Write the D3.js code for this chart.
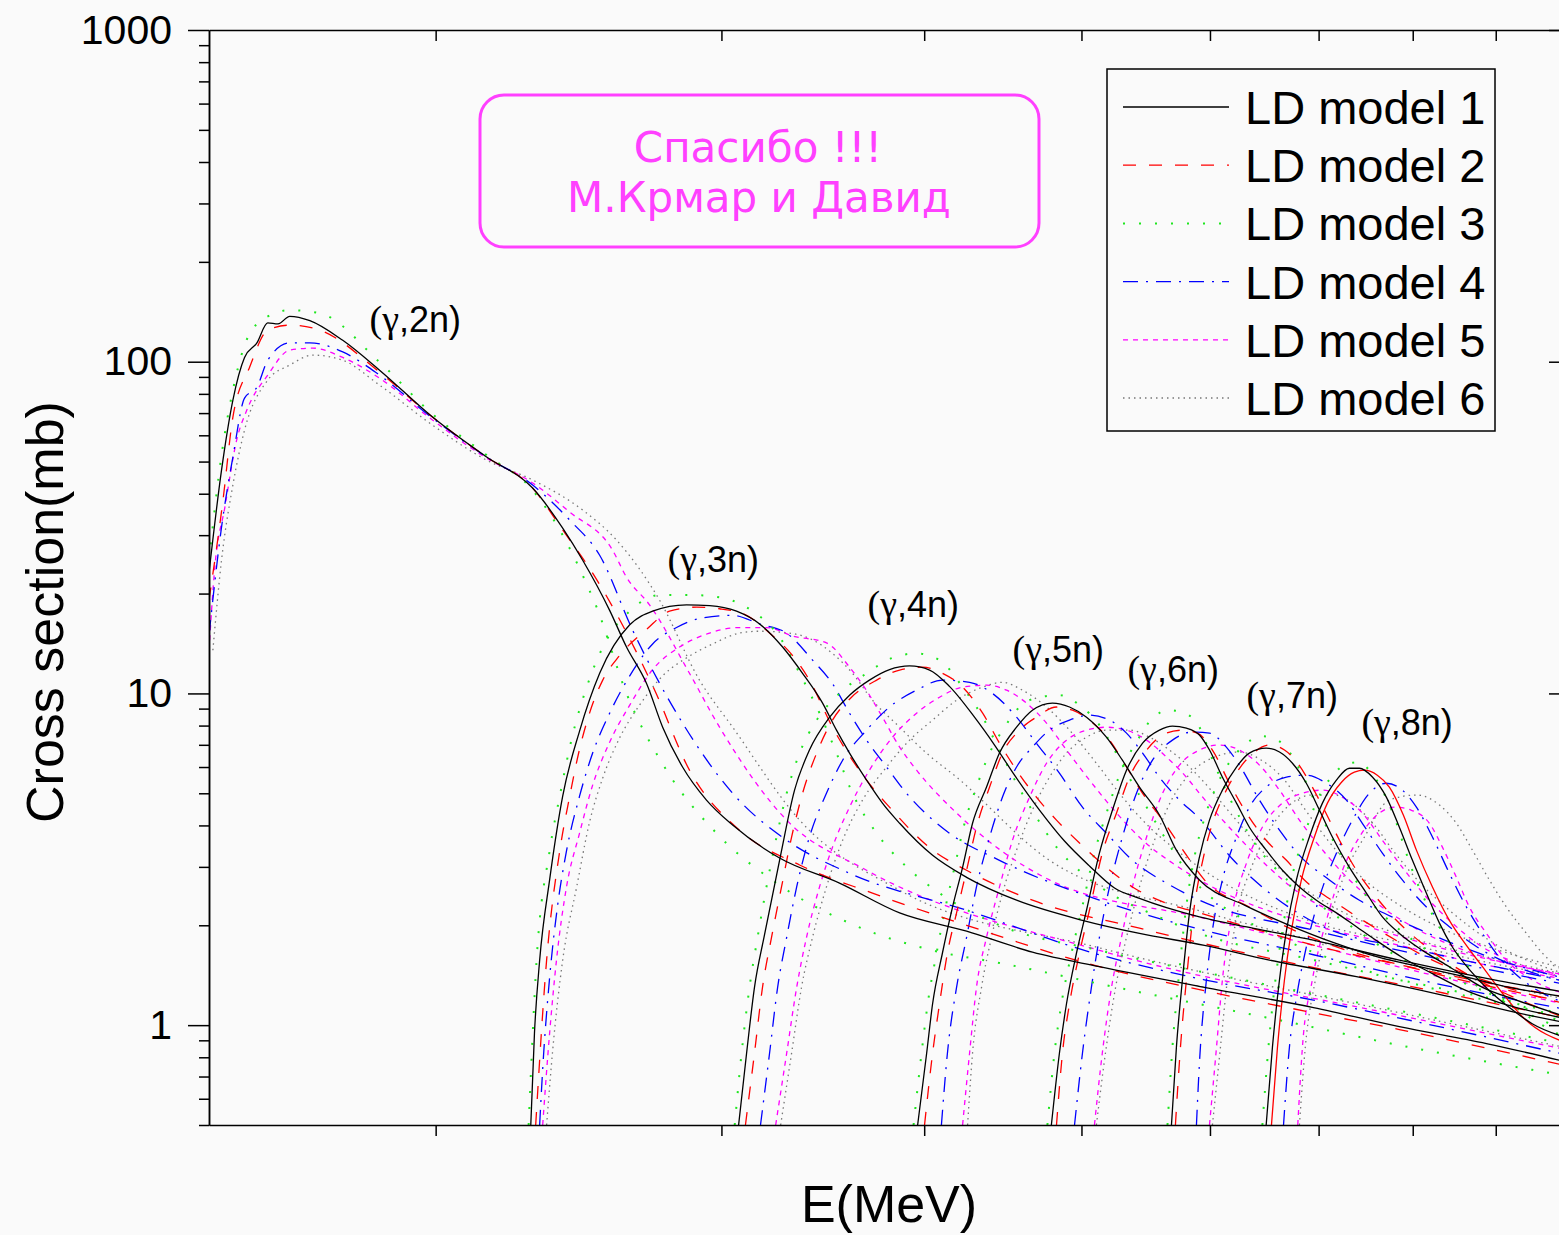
<!DOCTYPE html>
<html lang="ru">
<head>
<meta charset="UTF-8">
<title>Cross section(mb) vs E(MeV)</title>
<script src="https://d3js.org/d3.v7.min.js"></script>
<style>
  body { margin: 0; background: #fafafa; }
  svg { display: block; }
</style>
</head>
<body>
<script>
// legend entries
const models = ["LD model 1", "LD model 2", "LD model 3", "LD model 4", "LD model 5", "LD model 6"];

// reaction labels and where they sit (E in MeV, sigma in mb)
const reactions = ["2n", "3n", "4n", "5n", "6n", "7n", "8n"];
const labelE = [18.21, 27.79, 36.91, 45.34, 53.37, 63.19, 74.38];
const labelS = [122.8, 23.2, 17.0, 12.4, 10.8, 9.03, 7.49];

// axis ticks
const xTicks = [20, 30, 40, 50, 60, 70, 80, 90];
const yTicks = [1, 10, 100, 1000];
const yMinor = [0.5, 0.6, 0.7, 0.8, 0.9, 2, 3, 4, 5, 6, 7, 8, 9, 20, 30, 40, 50, 60, 70, 80, 90,
                200, 300, 400, 500, 600, 700, 800, 900];

// cross sections [E (MeV), sigma (mb)], one list per LD model (1..6)
const s2n = [
  [[14.5,23.1],[14.76,47.1],[15.0,76.6],[15.25,103],[15.52,114],[15.76,131],[15.99,130],[16.26,137],[16.73,133],[17.53,116],[18.47,94.3],[19.91,68.1],[21.5,51.6],[22.95,41.6],[23.95,31.5],[24.64,25.2],[25.6,17.8],[26.22,13.8],[26.98,10.7],[27.6,7.91],[28.39,6.0],[29.37,4.77],[30.48,4.01],[32.58,3.19],[35.47,2.68],[38.63,2.18],[42.48,1.92],[46.64,1.66],[51.29,1.50],[59.53,1.30],[69.49,1.13],[78.5,0.99],[88.82,0.88],[100,0.77]],
  [[14.5,19.1],[14.79,38.2],[15.0,68.1],[15.36,96.3],[15.76,124.5],[16.26,128.9],[16.97,124.5],[18.47,93.0],[19.91,68.1],[21.5,51.6],[22.95,41.6],[23.95,31.1],[24.99,23.05],[25.78,17.8],[27.29,10.23],[28.67,5.87],[30.78,3.87],[33.52,3.04],[37.17,2.50],[42.48,2.0],[51.29,1.50],[59.53,1.27],[69.49,1.09],[78.5,0.97],[100,0.75]],
  [[14.5,25.2],[14.76,52.3],[15.0,82.1],[15.25,112],[15.58,132],[16.26,143],[16.97,140],[18.47,99.7],[19.91,69.5],[21.5,52.3],[22.95,41.0],[23.95,30.0],[24.64,22.7],[25.13,18.2],[26.22,10.0],[27.75,5.87],[29.79,3.79],[32.44,2.68],[35.98,2.03],[40.48,1.68],[44.51,1.54],[53.75,1.27],[65.28,1.05],[78.5,0.87],[100,0.70]],
  [[14.5,15],[14.76,31.7],[15.0,51.6],[15.25,77.7],[15.52,83.8],[15.76,101],[16.26,114],[16.73,114],[17.53,107],[18.47,91.1],[19.91,67.6],[21.5,51.6],[22.95,42.5],[24.19,33.3],[25.24,26.1],[26.45,15.5],[28.39,8.14],[30.48,5.0],[32.91,3.61],[35.98,2.87],[42.48,2.22],[51.29,1.63],[59.53,1.37],[69.49,1.19],[78.5,1.05],[100,0.81]],
  [[14.5,13.5],[14.62,24.0],[14.83,36.4],[15.08,58.0],[15.3,71.5],[15.76,91.1],[16.26,108.4],[16.8,109.9],[17.53,103],[18.47,89.2],[19.91,66.7],[21.5,51.2],[22.95,43.1],[24.19,35.2],[25.71,27.0],[26.22,22.4],[27.09,18.5],[28.67,11.5],[29.92,7.91],[32.91,4.15],[36.86,2.93],[51.29,1.68],[78.5,1.07],[100,0.84]],
  [[14.58,13.5],[14.76,25.2],[15.0,42.5],[15.25,62.2],[15.76,88.0],[16.26,97.7],[16.8,104.7],[17.53,101],[18.47,85],[19.91,64.4],[21.5,50.5],[22.95,44.0],[24.64,35.7],[25.85,29.0],[27.48,19.1],[29.08,10.97],[30.48,7.91],[33.52,4.15],[38.63,2.55],[51.29,1.71],[78.5,1.09],[100,0.85]]
];
const s3n = [
  [[22.89,0.5],[23.01,0.946],[23.18,1.57],[23.51,2.74],[23.95,4.90],[24.53,7.70],[25.24,11.5],[26.34,16.1],[27.21,17.7],[28.55,18.5],[29.5,18.4],[30.65,17.7],[31.67,16.2],[32.72,13.8],[33.66,11.5],[34.63,9.35],[35.32,7.75],[35.98,6.61],[36.86,5.48],[37.7,4.67],[38.63,4.06],[40.48,3.25],[42.48,2.79],[45.6,2.38],[50.07,2.07],[54.29,1.89],[59.53,1.74],[65.28,1.57],[73.86,1.40],[83.56,1.23],[94.4,1.07],[100,1.01]],
  [[23.05,0.5],[23.41,1.57],[23.85,3.35],[24.19,4.90],[24.53,6.79],[24.88,8.72],[25.35,10.97],[25.96,13.0],[26.98,15.6],[27.87,17.7],[28.96,18.2],[29.92,18.0],[31.09,17.2],[32.12,15.2],[33.19,13.0],[33.99,10.97],[35.12,7.91],[36.86,5.48],[38.08,4.54],[40.48,3.37],[42.48,2.93],[46.64,2.38],[54.29,1.96],[65.28,1.59],[83.56,1.25],[100,1.04]],
  [[22.82,0.5],[23.08,1.57],[23.51,3.35],[23.85,4.90],[24.29,7.49],[24.78,10.45],[25.49,14.5],[26.34,17.7],[27.48,19.8],[28.8,19.8],[30.05,19.4],[31.35,17.7],[32.58,14.8],[33.52,11.5],[34.48,8.72],[35.32,6.61],[36.13,5.0],[37.39,3.79],[39.01,3.0],[40.88,2.50],[44.51,2.0],[51.29,1.68],[65.28,1.32],[83.56,1.04],[100,0.87]],
  [[23.18,0.5],[23.28,0.737],[23.51,1.39],[23.78,2.30],[24.08,3.35],[24.53,4.90],[24.99,6.61],[25.6,8.72],[26.34,11.3],[27.21,14.1],[28.15,15.8],[29.21,16.9],[30.48,17.2],[31.67,16.2],[32.91,15.2],[34.14,12.6],[35.12,10.7],[35.98,8.72],[36.86,7.23],[37.92,6.0],[39.01,5.0],[41.46,3.79],[44.51,3.14],[51.29,2.38],[59.53,1.93],[69.49,1.63],[83.56,1.32],[100,1.11]],
  [[23.28,0.5],[23.51,0.946],[23.74,1.57],[24.08,2.61],[24.53,3.79],[24.99,5.29],[25.6,7.13],[26.34,9.22],[27.21,11.8],[28.27,13.8],[29.5,15.2],[30.78,15.8],[31.98,15.8],[33.19,14.9],[34.82,14.2],[35.98,12.0],[36.86,10.2],[37.7,8.48],[38.63,6.89],[39.57,5.87],[41.88,4.36],[47.78,2.74],[59.53,2.10],[69.49,1.74],[83.56,1.39],[100,1.15]],
  [[23.41,0.5],[23.61,0.835],[23.95,1.57],[24.43,2.61],[24.88,4.09],[25.35,5.56],[25.96,7.33],[26.71,9.22],[27.6,11.3],[28.55,12.8],[29.63,14.1],[30.78,15.2],[31.67,15.4],[33.04,15.2],[34.14,14.5],[35.12,13.2],[36.13,11.5],[37.17,9.54],[38.63,7.91],[40.13,6.61],[41.88,5.59],[47.78,3.14],[59.53,2.19],[69.49,1.80],[83.56,1.44],[100,1.19]]
];
const s4n = [
  [[30.74,0.5],[31.09,0.823],[31.44,1.30],[31.89,1.87],[32.58,3.14],[33.28,5.11],[33.99,6.75],[34.98,8.48],[35.98,9.88],[37.01,10.97],[38.08,11.8],[39.18,12.1],[40.31,11.76],[41.46,10.5],[42.96,8.48],[44.2,6.99],[45.47,5.67],[47.11,4.45],[48.81,3.59],[50.57,3.02],[52.4,2.59],[54.29,2.41],[59.11,2.12],[63.45,1.97],[69.58,1.80],[78.5,1.57],[90.46,1.36],[100,1.25]],
  [[31.04,0.5],[31.44,0.823],[31.8,1.30],[32.21,1.84],[32.67,2.61],[33.14,3.69],[33.66,5.0],[34.34,6.61],[35.12,8.31],[36.08,9.74],[37.39,10.97],[38.63,11.76],[39.91,12.0],[41.05,11.5],[42.24,10.45],[43.46,8.72],[44.51,7.08],[45.6,5.87],[46.9,4.87],[48.26,4.15],[49.86,3.54],[51.8,2.99],[53.75,2.61],[56.41,2.33],[59.11,2.18],[69.58,1.74],[78.5,1.52],[90.46,1.32],[100,1.21]],
  [[30.57,0.5],[30.87,0.823],[31.22,1.30],[31.58,1.84],[31.98,2.61],[32.44,3.69],[32.91,5.0],[33.52,6.61],[34.34,8.31],[35.47,10.0],[36.86,11.5],[38.24,12.8],[39.57,13.2],[40.88,12.6],[42.24,10.45],[43.46,8.48],[44.51,6.75],[45.6,5.36],[46.9,4.24],[48.26,3.44],[50.07,2.87],[52.55,2.43],[55.07,2.18],[59.11,1.89],[69.58,1.57],[78.5,1.37],[90.46,1.19],[100,1.07]],
  [[31.71,0.5],[32.12,0.823],[32.49,1.30],[32.91,1.84],[33.38,2.61],[33.99,3.69],[34.82,5.0],[35.63,6.29],[36.86,7.75],[38.08,9.1],[39.57,10.23],[41.05,10.97],[42.66,10.8],[44.07,10.0],[45.6,8.48],[46.9,7.08],[48.46,5.75],[50.07,4.54],[51.8,3.79],[53.75,3.14],[56.41,2.68],[59.11,2.38],[69.58,1.93],[78.5,1.68],[90.46,1.45],[100,1.32]],
  [[32.4,0.5],[32.91,0.823],[33.38,1.30],[33.85,1.84],[34.48,2.61],[35.12,3.44],[35.98,4.54],[37.01,5.87],[38.24,7.38],[39.57,8.72],[40.88,9.74],[42.24,10.45],[43.7,10.59],[44.96,10.23],[46.25,9.35],[47.58,8.14],[48.95,6.75],[50.57,5.48],[52.55,4.36],[54.53,3.61],[56.89,3.08],[59.11,2.74],[69.58,2.0],[78.5,1.74],[90.46,1.49],[100,1.37]],
  [[32.63,0.5],[33.14,0.823],[33.61,1.30],[34.14,1.84],[34.82,2.61],[35.63,3.61],[36.65,4.77],[37.92,6.0],[39.18,7.23],[40.48,8.31],[41.88,9.54],[43.46,10.45],[44.7,10.8],[45.98,10.23],[47.58,9.1],[49.16,7.75],[51.07,6.16],[52.99,4.87],[55.07,3.95],[57.21,3.37],[59.11,2.99],[69.58,2.04],[78.5,1.78],[90.46,1.52],[100,1.39]]
];
const s5n = [
  [[39.63,0.5],[40.14,0.823],[40.48,1.16],[41.05,1.65],[41.64,2.27],[42.24,2.99],[42.84,4.06],[43.7,5.22],[44.51,6.61],[45.6,7.91],[46.64,8.9],[47.98,9.35],[49.16,9.1],[50.36,8.48],[51.8,7.38],[52.99,6.29],[54.29,5.22],[55.85,4.30],[57.21,3.37],[59.11,2.74],[63.01,2.30],[67.16,2.0],[71.59,1.77],[76.3,1.60],[80.76,1.50],[86.09,1.40],[91.76,1.30],[100,1.21]],
  [[40.02,0.5],[40.48,0.823],[40.88,1.16],[41.34,1.65],[41.88,2.18],[42.48,2.93],[43.08,3.95],[43.89,5.22],[44.7,6.61],[45.79,7.75],[46.9,8.48],[48.26,9.1],[49.37,8.9],[50.57,8.31],[52.03,7.23],[53.3,6.0],[54.53,5.0],[56.1,4.15],[57.87,3.32],[59.53,2.74],[63.45,2.27],[67.16,1.96],[71.59,1.73],[80.76,1.47],[91.76,1.27],[100,1.17]],
  [[39.4,0.5],[39.85,0.823],[40.2,1.16],[40.71,1.65],[41.23,2.27],[41.76,2.99],[42.36,4.06],[43.08,5.22],[43.89,6.61],[44.83,7.91],[45.79,9.1],[47.11,9.74],[48.46,9.88],[49.86,9.22],[51.29,8.03],[52.4,6.75],[53.52,5.56],[55.07,4.39],[56.65,3.49],[58.28,2.83],[60.39,2.38],[63.45,2.04],[67.16,1.78],[71.59,1.57],[80.76,1.32],[91.76,1.15],[100,1.05]],
  [[40.99,0.5],[41.34,0.823],[41.88,1.30],[42.48,1.84],[43.08,2.61],[43.89,3.69],[44.7,4.87],[45.6,6.0],[46.64,6.89],[47.78,7.75],[49.16,8.31],[50.57,8.6],[52.03,8.31],[53.3,7.59],[54.53,6.61],[55.85,5.59],[57.46,4.77],[59.11,4.2],[61.9,3.18],[64.98,2.55],[69.58,2.04],[80.76,1.68],[91.76,1.47],[100,1.35]],
  [[42.24,0.5],[42.66,0.823],[43.08,1.30],[43.7,1.84],[44.51,2.61],[45.34,3.61],[46.45,4.87],[47.58,6.16],[48.95,7.23],[50.36,7.75],[51.8,7.91],[53.3,7.75],[54.84,7.23],[56.41,6.43],[58.03,5.59],[59.11,5.0],[61.9,3.87],[64.98,3.04],[68.12,2.50],[72.1,2.15],[80.76,1.78],[91.76,1.53],[100,1.40]],
  [[42.54,0.5],[42.84,0.823],[43.39,1.30],[44.01,1.84],[44.7,2.50],[45.6,3.37],[46.64,4.45],[47.78,5.59],[48.95,6.61],[50.36,7.38],[51.8,7.75],[53.52,7.75],[55.07,7.38],[56.65,6.75],[58.28,6.0],[59.11,5.59],[61.9,4.30],[64.98,3.25],[68.12,2.64],[72.1,2.22],[80.76,1.80],[91.76,1.55],[100,1.41]]
];
const s6n = [
  [[47.91,0.5],[48.46,0.823],[48.95,1.16],[49.65,1.65],[50.36,2.22],[51.29,3.30],[52.25,4.45],[53.3,5.87],[54.53,7.08],[55.85,7.75],[56.89,7.97],[58.03,7.86],[59.11,7.49],[59.96,6.75],[61.07,5.59],[62.3,4.67],[63.45,3.95],[64.98,3.37],[66.5,2.93],[68.12,2.61],[69.78,2.38],[71.79,2.18],[73.86,1.98],[75.97,1.80],[78.83,1.60],[82.27,1.43],[86.33,1.27],[90.46,1.17],[100,1.04]],
  [[48.26,0.5],[48.67,0.823],[49.16,1.16],[49.86,1.65],[50.57,2.22],[51.5,3.30],[52.55,4.36],[53.52,5.59],[54.84,6.75],[56.41,7.59],[57.7,7.75],[58.95,7.59],[60.21,6.75],[61.68,5.36],[63.19,4.36],[64.98,3.61],[66.88,3.14],[68.6,2.74],[72.1,2.30],[76.3,1.93],[82.27,1.57],[90.46,1.32],[100,1.15]],
  [[47.64,0.5],[48.12,0.823],[48.6,1.16],[49.3,1.65],[50.0,2.22],[50.93,3.30],[51.88,4.45],[52.92,5.87],[54.14,7.23],[55.46,8.54],[56.65,8.9],[57.87,8.72],[59.11,7.91],[60.13,6.43],[61.24,5.22],[62.56,4.24],[63.91,3.54],[65.75,2.99],[68.12,2.55],[72.1,2.10],[78.5,1.60],[86.7,1.32],[100,1.0]],
  [[49.51,0.5],[50.07,0.823],[50.71,1.30],[51.29,1.84],[52.03,2.61],[52.99,3.69],[54.06,5.0],[55.3,6.29],[56.89,7.23],[58.53,7.65],[59.96,7.59],[61.41,6.89],[62.56,6.08],[64.36,4.77],[66.22,3.87],[68.12,3.25],[71.08,2.74],[74.17,2.38],[78.5,2.07],[84.27,1.78],[90.46,1.57],[100,1.37]],
  [[50.93,0.5],[51.5,0.823],[52.18,1.30],[52.92,1.84],[53.75,2.61],[54.84,3.69],[56.1,5.0],[57.46,6.08],[59.11,6.75],[60.82,6.99],[62.56,6.75],[64.36,6.08],[66.22,5.11],[68.12,4.15],[70.58,3.32],[73.13,2.74],[76.3,2.30],[80.76,1.93],[86.7,1.66],[100,1.41]],
  [[51.07,0.5],[51.73,0.823],[52.48,1.30],[53.3,1.84],[54.29,2.61],[55.46,3.61],[56.81,4.77],[58.45,5.79],[60.39,6.43],[62.56,6.66],[64.55,6.29],[66.69,5.48],[68.6,4.50],[71.08,3.56],[74.17,2.83],[78.5,2.30],[84.27,1.91],[90.46,1.68],[100,1.47]]
];
const s7n = [
  [[56.81,0.5],[57.21,0.858],[57.7,1.37],[58.28,2.18],[59.11,3.21],[59.96,4.15],[61.07,5.11],[62.3,6.0],[63.45,6.61],[64.98,6.84],[66.22,6.66],[67.45,6.16],[68.79,5.36],[70.08,4.45],[71.38,3.69],[73.13,2.99],[74.91,2.50],[76.63,2.12],[78.5,1.89],[81.11,1.68],[84.27,1.50],[88.32,1.30],[92.68,1.19],[100,1.05]],
  [[57.13,0.5],[57.54,0.858],[58.03,1.37],[58.61,2.18],[59.45,3.21],[60.3,4.15],[61.41,5.11],[62.65,6.0],[63.91,6.66],[65.28,6.99],[66.69,6.75],[67.96,6.16],[69.27,5.29],[70.58,4.45],[72.1,3.61],[73.86,2.93],[75.76,2.47],[77.95,2.10],[81.34,1.74],[85.48,1.47],[91.76,1.23],[100,1.04]],
  [[56.49,0.5],[56.89,0.858],[57.38,1.37],[57.95,2.18],[58.69,3.21],[59.53,4.2],[60.56,5.26],[61.68,6.2],[63.01,6.99],[64.55,7.43],[66.03,7.23],[67.16,6.66],[68.41,5.67],[69.78,4.61],[71.28,3.69],[73.13,2.93],[75.23,2.38],[77.95,2.0],[81.92,1.66],[87.94,1.30],[100,0.95]],
  [[58.86,0.5],[59.11,0.768],[59.7,1.37],[60.21,1.93],[61.07,2.74],[62.3,3.69],[63.45,4.54],[64.98,5.22],[66.88,5.59],[68.79,5.67],[70.78,5.36],[72.81,4.77],[74.48,4.06],[76.63,3.30],[78.83,2.74],[81.57,2.27],[84.27,1.98],[88.32,1.68],[92.68,1.50],[100,1.34]],
  [[59.96,0.5],[60.56,0.858],[61.07,1.37],[61.94,2.18],[63.19,3.08],[64.63,3.95],[66.5,4.67],[68.41,5.0],[70.38,5.11],[72.41,4.87],[74.48,4.36],[76.63,3.61],[78.83,2.99],[81.57,2.43],[84.27,2.07],[88.32,1.72],[92.68,1.54],[100,1.37]],
  [[60.21,0.5],[60.9,0.858],[61.5,1.37],[62.38,2.18],[63.64,2.99],[65.28,3.87],[67.16,4.61],[69.38,4.94],[71.59,4.94],[73.64,4.61],[75.76,4.01],[77.95,3.32],[80.76,2.70],[84.27,2.22],[89.19,1.80],[100,1.41]]
];
const s8n = [
  [[64.98,0.5],[65.56,0.858],[66.22,1.37],[66.88,1.93],[67.83,2.74],[69.09,3.69],[70.38,4.67],[71.79,5.48],[73.13,5.95],[74.17,5.95],[75.55,5.60],[77.06,4.87],[78.5,3.95],[79.97,3.14],[81.57,2.50],[83.09,2.03],[84.63,1.72],[86.7,1.47],[89.19,1.27],[91.76,1.13],[94.78,1.01],[100,0.91]],
  [[65.47,0.5],[66.03,0.858],[66.69,1.37],[67.35,1.93],[68.31,2.74],[69.58,3.69],[70.88,4.67],[72.31,5.40],[73.64,5.79],[74.7,5.87],[76.08,5.67],[77.39,5.22],[78.94,4.30],[80.42,3.37],[82.27,2.61],[84.27,2.07],[86.33,1.74],[88.32,1.50],[90.84,1.25],[93.47,1.06],[100,0.876]],
  [[64.63,0.5],[65.19,0.858],[65.84,1.37],[66.5,1.93],[67.35,2.74],[68.6,3.74],[69.88,4.77],[71.28,5.60],[72.61,6.08],[73.96,6.20],[75.23,5.87],[76.63,5.11],[78.06,4.15],[79.35,3.25],[80.76,2.59],[82.5,2.10],[84.51,1.74],[86.7,1.49],[90.46,1.23],[100,0.90]],
  [[66.6,0.5],[67.16,0.858],[67.83,1.21],[68.79,1.72],[70.08,2.43],[71.79,3.30],[73.44,4.15],[75.23,5.0],[77.06,5.36],[78.83,5.11],[80.42,4.54],[82.27,3.69],[84.27,2.87],[86.33,2.27],[88.32,1.89],[90.46,1.60],[93.47,1.37],[100,1.15]],
  [[67.96,0.5],[68.41,0.858],[69.38,1.37],[70.78,2.07],[72.41,2.93],[74.17,3.69],[76.3,4.36],[78.06,4.54],[79.8,4.45],[81.92,4.06],[83.44,3.44],[85.11,2.79],[86.7,2.27],[88.82,1.89],[91.37,1.57],[94.78,1.37],[100,1.23]],
  [[68.12,0.5],[68.69,0.858],[69.68,1.37],[71.08,2.07],[72.81,2.93],[74.7,3.69],[77.39,4.77],[80.42,4.94],[83.09,4.61],[85.11,4.06],[87.07,3.37],[89.19,2.74],[91.37,2.27],[94.01,1.89],[96.14,1.65],[100,1.41]]
];
const curves = [s2n, s3n, s4n, s5n, s6n, s7n, s8n];

// line styles of the six models
const styles = [
  { color: "#000000", dash: null,        width: 1.3 },
  { color: "#ff0000", dash: "13,13",     width: 1.3 },
  { color: "#1ee61e", dash: "2,14",      width: 2 },
  { color: "#0000ff", dash: "15,8,2,8",  width: 1.3 },
  { color: "#ff00ff", dash: "5,5",       width: 1.3 },
  { color: "#777777", dash: "1.5,4",     width: 1.3 }
];

const width = 1559, height = 1235;
const sans = "'Liberation Sans', Arial, sans-serif";

const svg = d3.select("body").append("svg")
    .attr("width", width)
    .attr("height", height);

svg.append("rect").attr("width", width).attr("height", height).attr("fill", "#fafafa");

// scales (the frame continues a little past the right edge of the picture)
const x = d3.scaleLog().domain([14.5, 100]).range([209, 1570]);
const y = d3.scaleLog().domain([0.5, 1000]).range([1125, 30]);

svg.append("clipPath").attr("id", "plot")
  .append("rect")
    .attr("x", x.range()[0]).attr("y", y.range()[1])
    .attr("width", x.range()[1] - x.range()[0])
    .attr("height", y.range()[0] - y.range()[1]);

// curves, model 6 first so the black line ends on top
const line = d3.line()
    .x(d => x(d[0]))
    .y(d => y(d[1]))
    .curve(d3.curveMonotoneX);

const gCurves = svg.append("g").attr("clip-path", "url(#plot)");
for (let m = models.length - 1; m >= 0; m--) {
  curves.forEach((set, r) => {
    // the model 2 curve of (γ,8n) is drawn solid in the original
    const dash = (m === 1 && reactions[r] === "8n") ? null : styles[m].dash;
    gCurves.append("path")
        .attr("d", line(set[m]))
        .attr("fill", "none")
        .attr("stroke", styles[m].color)
        .attr("stroke-width", styles[m].width)
        .attr("stroke-dasharray", dash);
  });
}

// axes
function styleAxis(g) {
  g.selectAll("path, line").attr("stroke", "#000").attr("stroke-width", 1.5);
  g.selectAll("text").attr("font-family", sans).attr("font-size", 41).attr("fill", "#000");
}

svg.append("g").attr("transform", `translate(${x.range()[0]},0)`)
    .call(d3.axisLeft(y).tickValues(yTicks).tickSize(21).tickSizeOuter(0).tickPadding(16)
      .tickFormat(d3.format("d")))
    .call(styleAxis);
svg.append("g").attr("transform", `translate(${x.range()[0]},0)`)
    .call(d3.axisLeft(y).tickValues(yMinor).tickSize(10).tickSizeOuter(0).tickFormat(""))
    .call(styleAxis);
svg.append("g").attr("transform", `translate(${x.range()[1]},0)`)
    .call(d3.axisRight(y).tickValues(yTicks).tickSize(-21).tickSizeOuter(0).tickFormat(""))
    .call(styleAxis);
svg.append("g").attr("transform", `translate(${x.range()[1]},0)`)
    .call(d3.axisRight(y).tickValues(yMinor).tickSize(-11).tickSizeOuter(0).tickFormat(""))
    .call(styleAxis);
svg.append("g").attr("transform", `translate(0,${y.range()[0]})`)
    .call(d3.axisBottom(x).tickValues(xTicks).tickSize(11).tickSizeOuter(0).tickFormat(""))
    .call(styleAxis);
svg.append("g").attr("transform", `translate(0,${y.range()[1]})`)
    .call(d3.axisTop(x).tickValues(xTicks).tickSize(-11).tickSizeOuter(0).tickFormat(""))
    .call(styleAxis);

// axis titles
svg.append("text")
    .attr("transform", "translate(63,612) rotate(-90)")
    .attr("text-anchor", "middle")
    .attr("font-family", sans).attr("font-size", 52)
    .text("Cross section(mb)");
svg.append("text")
    .attr("x", 889).attr("y", 1222)
    .attr("text-anchor", "middle")
    .attr("font-family", sans).attr("font-size", 52)
    .text("E(MeV)");

// reaction labels
reactions.forEach((r, i) => {
  const t = svg.append("text")
      .attr("x", x(labelE[i])).attr("y", y(labelS[i]))
      .attr("font-family", sans).attr("font-size", 36).attr("fill", "#000");
  t.append("tspan").attr("font-family", "'Liberation Serif', 'DejaVu Serif', serif")
      .attr("font-size", 38).text("(γ");
  t.append("tspan").text("," + r + ")");
});

// note box
const note = svg.append("g");
note.append("rect")
    .attr("x", 480).attr("y", 95).attr("width", 559).attr("height", 152)
    .attr("rx", 24).attr("ry", 24)
    .attr("fill", "none").attr("stroke", "#ff40ff").attr("stroke-width", 3);
note.append("text")
    .attr("x", 758).attr("y", 162).attr("text-anchor", "middle")
    .attr("font-family", "'DejaVu Sans', sans-serif").attr("font-size", 42).attr("fill", "#ff40ff")
    .text("Спасибо !!!");
note.append("text")
    .attr("x", 759).attr("y", 212).attr("text-anchor", "middle")
    .attr("font-family", "'DejaVu Sans', sans-serif").attr("font-size", 42).attr("fill", "#ff40ff")
    .text("М.Крмар и Давид");

// legend
const legend = svg.append("g");
legend.append("rect")
    .attr("x", 1107).attr("y", 69).attr("width", 388).attr("height", 362)
    .attr("fill", "#fafafa").attr("stroke", "#000").attr("stroke-width", 1.5);
models.forEach((name, i) => {
  const ly = 107 + i * 58.2;
  legend.append("line")
      .attr("x1", 1123).attr("x2", 1229).attr("y1", ly).attr("y2", ly)
      .attr("stroke", styles[i].color).attr("stroke-width", styles[i].width)
      .attr("stroke-dasharray", styles[i].dash);
  legend.append("text")
      .attr("x", 1245).attr("y", ly + 17)
      .attr("font-family", sans).attr("font-size", 47).attr("fill", "#000")
      .text(name);
});
</script>
</body>
</html>
